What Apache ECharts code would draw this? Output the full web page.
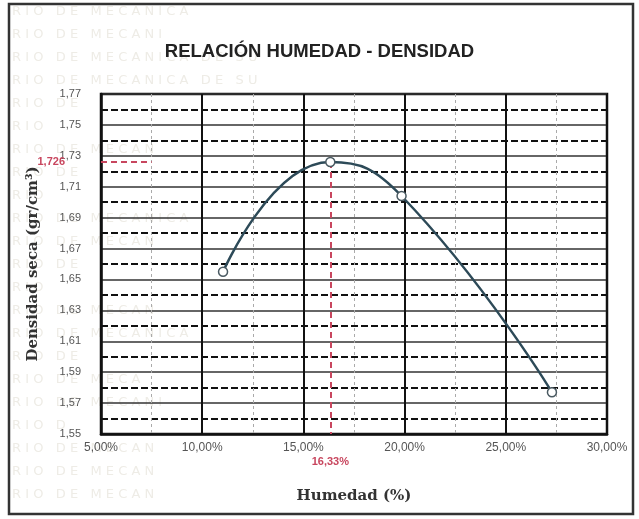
<html>
<head>
    <meta charset="utf-8">
    <title>Relación humedad - densidad</title>
    <script src="https://cdn.jsdelivr.net/npm/echarts/dist/echarts.min.js"></script>
    <style>
        body { margin: 0; background: #fff; }
        #main { width: 639px; height: 519px; }
    </style>
</head>
<body>
<div id="main"></div>

<script>
    // datos del ensayo (humedad %, densidad seca gr/cm3)
    var humedad = [11.03, 16.33, 19.85, 27.28];
    var densidad = [1.655, 1.726, 1.704, 1.577];

    // punto maximo
    var humedadOptima = 16.33;
    var densidadMax = 1.726;

    // ejes
    var xMin = 5, xMax = 30, xPaso = 5;
    var yMin = 1.55, yMax = 1.77, yPaso = 0.02;

    // texto de fondo (sello del laboratorio, muy tenue)
    var sello = ['RIO DE MECANICA', 'RIO DE MECANI', 'RIO DE MECANICA DE SU', 'RIO DE MECANICA DE SU',
        'RIO DE', 'RIO', 'RIO DE MECAN', 'RIO DE', 'RIO', 'RIO DE MECANICA', 'RIO DE MECAN',
        'RIO DE', 'RIO', 'RIO DE MECAN', 'RIO DE MECANICA', 'RIO DE', 'RIO DE MECA', 'RIO DE MECANI',
        'RIO D', 'RIO DE MECAN', 'RIO DE MECAN', 'RIO DE MECAN'];

    function coma(v, dec) {
        return v.toFixed(dec).replace('.', ',');
    }

    var myChart = echarts.init(document.getElementById('main'));

    var pares = humedad.map(function (h, i) {
        return [h, densidad[i]];
    });

    var textosFondo = sello.map(function (t, i) {
        return {
            type: 'text',
            left: 12,
            top: 5 + i * 23,
            z: -10,
            style: {
                text: t.split('').join(' '),
                fill: '#eeece6',
                font: '13px "DejaVu Sans", sans-serif'
            }
        };
    });

    var serif = '"DejaVu Serif", "Liberation Serif", serif';
    var sans = '"Liberation Sans", Arial, sans-serif';

    var option = {
        backgroundColor: '#fff',
        animation: false,
        title: {
            text: 'RELACIÓN HUMEDAD - DENSIDAD',
            left: 'center',
            top: 37,
            textStyle: {
                fontFamily: sans,
                fontSize: 18.5,
                fontWeight: 'bold',
                color: '#222'
            }
        },
        graphic: textosFondo.concat([{
            type: 'rect',
            shape: {x: 9, y: 4, width: 624, height: 510},
            style: {fill: 'none', stroke: '#333', lineWidth: 2.5},
            z: 100
        }]),
        grid: {
            left: 101,
            right: 32,
            top: 94,
            bottom: 85,
            show: true,
            borderColor: '#111',
            borderWidth: 2.5
        },
        xAxis: {
            type: 'value',
            min: xMin,
            max: xMax,
            interval: xPaso,
            name: 'Humedad (%)',
            nameLocation: 'middle',
            nameGap: 55,
            nameTextStyle: {
                fontFamily: serif,
                fontWeight: 'bold',
                fontSize: 15,
                color: '#333'
            },
            axisLine: {show: true, lineStyle: {color: '#111', width: 2.5}},
            axisTick: {show: false},
            axisLabel: {
                margin: 8,
                color: '#555',
                fontSize: 12,
                fontFamily: sans,
                formatter: function (v) { return coma(v, 2) + '%'; }
            },
            splitLine: {show: true, lineStyle: {color: '#111', width: 2}},
            minorTick: {show: false, splitNumber: 2},
            minorSplitLine: {show: true, lineStyle: {color: '#aaa', width: 1, type: [3, 3]}}
        },
        yAxis: {
            type: 'value',
            min: yMin,
            max: yMax,
            interval: yPaso,
            name: 'Densidad seca (gr/cm³)',
            nameLocation: 'middle',
            nameGap: 60,
            nameTextStyle: {
                fontFamily: serif,
                fontWeight: 'bold',
                fontSize: 15,
                color: '#333'
            },
            axisLine: {show: true, lineStyle: {color: '#111', width: 2.5}},
            axisTick: {show: false},
            axisLabel: {
                margin: 20,
                color: '#555',
                fontSize: 11,
                fontFamily: sans,
                formatter: function (v) { return coma(v, 2); }
            },
            splitLine: {show: true, lineStyle: {color: '#333', width: 1.5}},
            minorTick: {show: false, splitNumber: 2},
            minorSplitLine: {show: true, lineStyle: {color: '#111', width: 2.2, type: [7, 3]}}
        },
        series: [{
            type: 'line',
            data: pares,
            smooth: 0.5,
            symbol: 'circle',
            symbolSize: 9,
            z: 5,
            lineStyle: {color: '#2d4a58', width: 2.5},
            itemStyle: {color: '#fff', borderColor: '#4a5a62', borderWidth: 1.5},
            markLine: {
                silent: true,
                symbol: 'none',
                lineStyle: {color: '#c8465e', width: 2, type: [6, 4]},
                label: {
                    color: '#c8465e',
                    fontSize: 11,
                    fontWeight: 'bold',
                    fontFamily: sans
                },
                data: [
                    [
                        {coord: [humedadOptima, densidadMax]},
                        {coord: [humedadOptima, yMin], label: {position: 'end', distance: 22, formatter: coma(humedadOptima, 2) + '%'}}
                    ],
                    [
                        {coord: [xMin, densidadMax], label: {position: 'start', distance: 36, formatter: coma(densidadMax, 3)}},
                        {coord: [xMin + 2.5, densidadMax]}
                    ]
                ]
            }
        }]
    };

    myChart.setOption(option);
</script>
</body>
</html>
